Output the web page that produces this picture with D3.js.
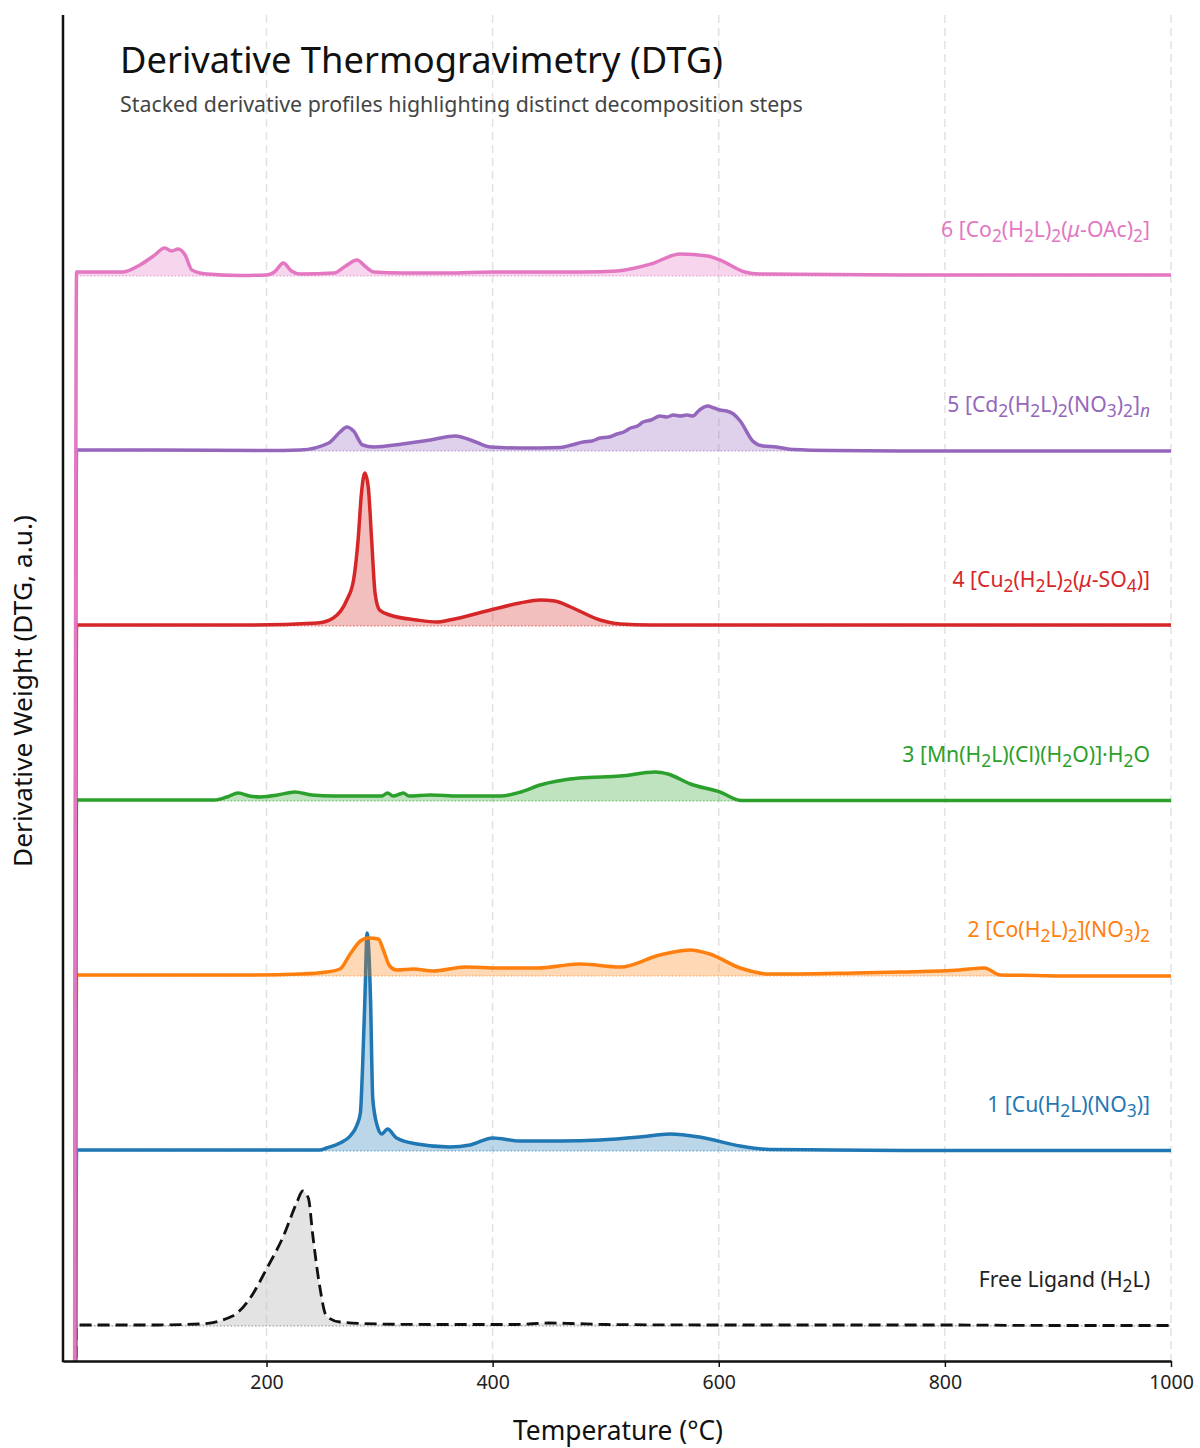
<!DOCTYPE html>
<html>
<head>
<meta charset="utf-8">
<script src="https://cdn.jsdelivr.net/npm/d3@7"></script>
<style>
  html, body { margin: 0; padding: 0; background: #fff; }
  text { font-family: "Noto Sans", "Open Sans", sans-serif; }
</style>
</head>
<body>
<script>
// ---- DTG profiles (temperature in °C, derivative signal in a.u.) ----
// The first sample of every run is the instrument start-up transient.
const ligandT = [30, 32, 60, 100, 141, 170, 185, 200, 215, 227, 232, 237, 241, 247, 253, 265, 300, 350, 420, 450, 470, 500, 600, 700, 800, 900, 1000];
const ligandV = [-1400, 1, 1, 1, 2, 10, 27, 57, 90, 124, 135, 128, 90, 40, 10, 4, 2, 1.5, 1.5, 3, 2.5, 1.5, 1, 1, 1, 0.5, 0.5];

const cuNO3T = [30, 32, 100, 200, 247, 253, 265, 274, 280, 283, 285, 287, 289, 292, 294, 298, 302, 307, 315, 333, 362, 380, 400, 424, 460, 495, 530, 557, 583, 619, 645, 700, 800, 900, 1000];
const cuNO3V = [-1400, 1, 1, 1, 1, 3, 8, 15, 26, 38, 85, 152, 218, 152, 52, 25, 17, 22, 13, 7, 4, 6, 13, 10, 10, 11, 14, 17, 14, 5, 1.5, 1, 0.5, 0.5, 0.5];

const coNO3T = [30, 32, 100, 185, 230, 253, 265, 274, 283, 290, 299, 303, 309, 315, 330, 347, 376, 406, 440, 477, 513, 548, 575, 592, 619, 645, 672, 720, 760, 813, 835, 849, 880, 911, 1000];
const coNO3V = [-1400, 1, 1, 1, 2, 4, 7, 22, 35, 38, 37, 27, 10, 6, 7, 5, 9, 8, 8, 12, 9, 21, 26, 22, 8, 2, 2, 3, 4, 6, 8, 1, 0.5, 0, 0];

const mnClT = [30, 32, 100, 154, 165, 175, 185, 195, 210, 225, 240, 260, 290, 302, 307, 312, 318, 321, 326, 345, 370, 407, 425, 442, 477, 513, 544, 555, 575, 601, 620, 640, 800, 1000];
const mnClV = [-1400, 1, 1, 1, 4, 8, 5, 4, 6, 9, 6, 5, 5, 5, 8, 5, 7, 8, 5, 6, 5, 5, 9, 16, 23, 25, 29, 27, 17, 9, 0.5, 0.5, 0.5, 0.5];

const cuSO4T = [30, 32, 100, 185, 245, 259, 271, 277, 281, 284, 287, 290, 293, 296, 300, 309, 333, 351, 362, 398, 424, 442, 455, 469, 495, 513, 540, 700, 1000];
const cuSO4V = [-1400, 1, 1, 1, 3, 8, 26, 46, 86, 133, 153, 139, 86, 33, 16, 11, 6, 4, 6, 16, 23, 26, 25, 19, 6, 2, 1, 1, 1];

const cdNO3T = [30, 32, 100, 200, 230, 255, 265, 271, 277, 285, 295, 320, 345, 367, 385, 398, 424, 460, 470, 480, 488, 495, 503, 510, 516, 522, 528, 533, 540, 548, 554, 560, 566, 572, 577, 583, 590, 596, 601, 607, 613, 619, 630, 639, 651, 666, 700, 800, 1000];
const cdNO3V = [-1400, 1, 1, 0.5, 1, 8, 19, 24, 20, 6, 4, 7, 11, 15, 9, 4, 3, 3.5, 6, 9, 10, 13, 14, 17, 19, 23, 25, 29, 31, 35, 34, 36, 35, 36, 35, 41, 45, 43, 41, 40, 37, 30, 10, 5, 4, 1.5, 0.5, 0, 0];

const coOAcT = [30, 32, 73, 88, 100, 110, 116, 122, 128, 134, 147, 177, 200, 207, 215, 222, 230, 260, 270, 280, 288, 295, 320, 360, 400, 440, 480, 510, 540, 566, 590, 601, 623, 636, 700, 800, 1000];
const coOAcV = [-1400, 4, 4, 11, 20, 28, 25, 27, 21, 6, 2, 0.5, 1, 4, 13, 5, 2, 3, 10, 16, 9, 4, 3, 3, 4, 4, 4, 5, 12, 22, 20, 16, 4, 2, 1.5, 1, 1];

// Labels: _{..} = subscript, *..* = italic
const seriesLabels = [
  "Free Ligand (H_{2}L)",
  "1 [Cu(H_{2}L)(NO_{3})]",
  "2 [Co(H_{2}L)_{2}](NO_{3})_{2}",
  "3 [Mn(H_{2}L)(Cl)(H_{2}O)]·H_{2}O",
  "4 [Cu_{2}(H_{2}L)_{2}(*μ*-SO_{4})]",
  "5 [Cd_{2}(H_{2}L)_{2}(NO_{3})_{2}]_{*n*}",
  "6 [Co_{2}(H_{2}L)_{2}(*μ*-OAc)_{2}]"
];
const seriesTemps = [ligandT, cuNO3T, coNO3T, mnClT, cuSO4T, cdNO3T, coOAcT];
const seriesValues = [ligandV, cuNO3V, coNO3V, mnClV, cuSO4V, cdNO3V, coOAcV];
const stackStep = 175;            // vertical offset between stacked profiles (a.u.)
const xTicks = [200, 400, 600, 800, 1000];

// ---- styling ----
const colors = ["#111111", "#1f77b4", "#ff7f0e", "#2ca02c", "#d62728", "#9467bd", "#e377c2"];
const fills  = ["#bdbdbd", "#1f77b4", "#ff7f0e", "#2ca02c", "#d62728", "#9467bd", "#e377c2"];

const W = 1200, H = 1448;
const plot = { left: 63, right: 1171, top: 15, bottom: 1361 };

const svg = d3.select("body").append("svg").attr("width", W).attr("height", H);

const x = d3.scaleLinear().domain([20, 1000]).range([plot.left, plot.right]);
const y = d3.scaleLinear().domain([-35, 1311]).range([plot.bottom, plot.top]);

// scale a text's font size so it spans the given width
function fitWidth(sel, target) {
  const w = sel.node().getComputedTextLength();
  const fs = parseFloat(sel.attr("font-size"));
  sel.attr("font-size", (fs * target / w).toFixed(2));
  return sel;
}

svg.append("defs").append("clipPath").attr("id", "plotClip")
  .append("rect")
  .attr("x", plot.left).attr("y", plot.top)
  .attr("width", plot.right - plot.left).attr("height", plot.bottom - plot.top);

// vertical grid
svg.append("g").selectAll("line").data(xTicks).join("line")
  .attr("x1", d => x(d)).attr("x2", d => x(d))
  .attr("y1", plot.top).attr("y2", plot.bottom)
  .attr("stroke", "#e2e2e2").attr("stroke-width", 1.5)
  .attr("stroke-dasharray", "8,5");

// title block
fitWidth(svg.append("text").attr("x", 120).attr("y", 73)
  .attr("font-size", 34).attr("fill", "#111")
  .text("Derivative Thermogravimetry (DTG)"), 603);
fitWidth(svg.append("text").attr("x", 120).attr("y", 112)
  .attr("font-size", 20).attr("fill", "#444")
  .text("Stacked derivative profiles highlighting distinct decomposition steps"), 683);

// profiles
const gSeries = svg.append("g").attr("clip-path", "url(#plotClip)");
const curve = d3.curveMonotoneX;

seriesTemps.forEach((temps, i) => {
  const offset = i * stackStep;
  const pts = temps.map((t, k) => [t, seriesValues[i][k]]);
  const g = gSeries.append("g");

  const area = d3.area()
    .x(d => x(d[0]))
    .y0(y(offset))
    .y1(d => y(offset + Math.max(0, d[1])))
    .curve(curve);
  g.append("path").datum(pts.slice(1))
    .attr("d", area)
    .attr("fill", fills[i]).attr("fill-opacity", i === 0 ? 0.42 : 0.3);

  // zero reference of this profile
  g.append("line")
    .attr("x1", x(temps[1])).attr("x2", x(1000))
    .attr("y1", y(offset)).attr("y2", y(offset))
    .attr("stroke", i === 0 ? "#666" : colors[i]).attr("stroke-opacity", 0.7)
    .attr("stroke-width", 1).attr("stroke-dasharray", "1.5,2");

  const line = d3.line().x(d => x(d[0])).y(d => y(offset + d[1])).curve(curve);
  g.append("path").datum(pts)
    .attr("d", line)
    .attr("fill", "none")
    .attr("stroke", colors[i])
    .attr("stroke-width", i === 0 ? 2.8 : 3.5)
    .attr("stroke-linejoin", "round")
    .attr("stroke-dasharray", i === 0 ? "12,6" : null);
});

// series labels with sub/italic markup
function richText(sel, str) {
  const re = /_\{([^}]*)\}|\*([^*]*)\*|([^_*]+)/g;
  let m, shifted = false;
  while ((m = re.exec(str)) !== null) {
    let content, isSub = false, italic = false;
    if (m[1] !== undefined) {
      isSub = true;
      content = m[1];
      if (/^\*.*\*$/.test(content)) { italic = true; content = content.slice(1, -1); }
    } else if (m[2] !== undefined) { italic = true; content = m[2]; }
    else content = m[3];
    const ts = sel.append("tspan").text(content);
    if (isSub) ts.attr("font-size", "0.82em");
    if (isSub && !shifted) { ts.attr("dy", "0.28em"); shifted = true; }
    else if (!isSub && shifted) { ts.attr("dy", "-0.23em"); shifted = false; }
    if (italic) ts.attr("font-style", "italic");
  }
}

const labelSel = seriesLabels.map((lab, i) => {
  const t = svg.append("text")
    .attr("x", x(1000) - 21)
    .attr("y", y(i * stackStep) - 39)
    .attr("text-anchor", "end")
    .attr("font-size", 18)
    .attr("fill", i === 0 ? "#222" : colors[i]);
  richText(t, lab);
  return t;
});
// common label size, set from the widest label
{
  const top = labelSel[labelSel.length - 1];
  const w = top.node().getComputedTextLength();
  const fs = 18 * 209 / w;
  labelSel.forEach(t => t.attr("font-size", fs.toFixed(2)));
}

// axes
svg.append("line")
  .attr("x1", plot.left).attr("x2", plot.left)
  .attr("y1", plot.top).attr("y2", plot.bottom + 1.25)
  .attr("stroke", "#111").attr("stroke-width", 2.5);

const xAxis = d3.axisBottom(x).tickValues(xTicks).tickFormat(d3.format("d"))
  .tickSize(6).tickPadding(8).tickSizeOuter(0);
const gx = svg.append("g").attr("transform", `translate(0,${plot.bottom})`).call(xAxis);
gx.select(".domain").attr("stroke", "#111").attr("stroke-width", 2.5);
gx.selectAll(".tick line").attr("stroke", "#111").attr("stroke-width", 1.5);
gx.selectAll(".tick text").attr("font-size", 19.5).attr("fill", "#222")
  .style("font-family", "'Noto Sans', 'Open Sans', sans-serif");

fitWidth(svg.append("text")
  .attr("x", 618).attr("y", 1440)
  .attr("text-anchor", "middle").attr("font-size", 23).attr("fill", "#111")
  .text("Temperature (°C)"), 210);

fitWidth(svg.append("text")
  .attr("transform", `translate(32,${691}) rotate(-90)`)
  .attr("text-anchor", "middle").attr("font-size", 23).attr("fill", "#111")
  .text("Derivative Weight (DTG, a.u.)"), 352);
</script>
</body>
</html>
